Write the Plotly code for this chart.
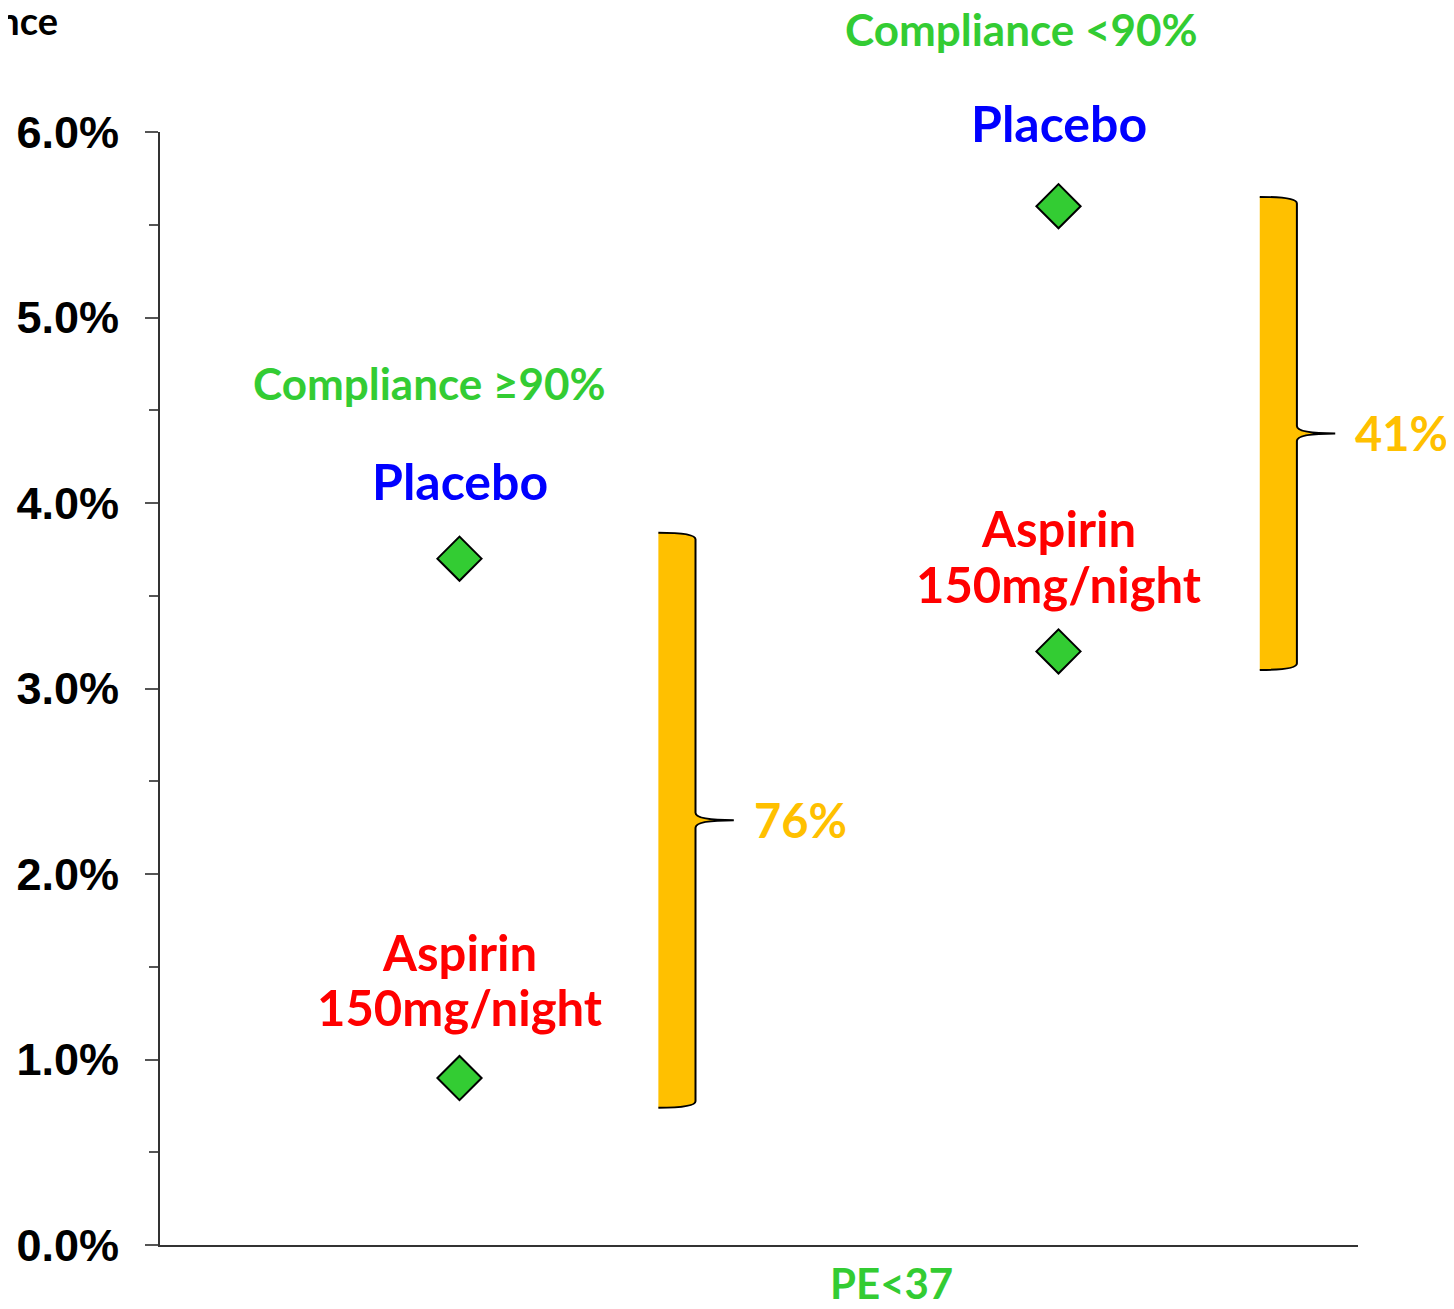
import plotly.graph_objects as go

# ---- data ----
groups = ["Compliance \u226590%", "Compliance <90%"]
group_x = [0.25, 0.75]
placebo = [3.7, 5.6]
aspirin = [0.9, 3.2]
reduction_labels = ["76%", "41%"]
y_tick_vals = [0, 1, 2, 3, 4, 5, 6]
y_tick_text = ["0.0%", "1.0%", "2.0%", "3.0%", "4.0%", "5.0%", "6.0%"]
x_label = "PE<37"
y_title = "Incidence"

GREEN = "#33CC33"
BLUE = "#0000FF"
RED = "#FF0000"
YELLOW = "#FFC000"
LABEL_FONT = "Lato"

fig = go.Figure()

fig.add_trace(go.Scatter(
    x=group_x + group_x,
    y=placebo + aspirin,
    mode="markers",
    marker=dict(symbol="diamond", size=34, color=GREEN,
                line=dict(color="black", width=2)),
    showlegend=False, hoverinfo="skip", cliponaxis=False))

# braces
brace_dx0 = [0.166, 0.168]   # offset of brace left edge from group x
brace_w = 0.031
tip_w = 0.032
pad_top = [0.14, 0.05]
pad_bot = [0.16, 0.10]
ear = 0.035
notch = 0.04
for i in range(2):
    x0 = group_x[i] + brace_dx0[i]
    x1 = x0 + brace_w
    xt = x1 + tip_w
    yt = placebo[i] + pad_top[i]
    yb = aspirin[i] - pad_bot[i]
    yc = (yt + yb) / 2
    outline = (f"M {x0},{yt} Q {x1},{yt} {x1},{yt-ear} "
               f"L {x1},{yc+notch} Q {x1},{yc} {xt},{yc} "
               f"Q {x1},{yc} {x1},{yc-notch} "
               f"L {x1},{yb+ear} Q {x1},{yb} {x0},{yb}")
    fig.add_shape(type="path", xref="x", yref="y", path=outline + " Z",
                  fillcolor=YELLOW, line=dict(width=0), layer="below")
    fig.add_shape(type="path", xref="x", yref="y", path=outline,
                  line=dict(color="black", width=2))
    fig.add_annotation(x=xt, y=yc, text=f"<b>{reduction_labels[i]}</b>",
                       xanchor="left", yanchor="middle", xshift=18, yshift=0,
                       showarrow=False,
                       font=dict(family=LABEL_FONT, size=47, color=YELLOW))

# text labels
comp_shift = [(-30, 176), (-37, 177)]
plac_shift = [78, 83]
asp_shift = [(126, 71), (123, 67)]
for i in range(2):
    fig.add_annotation(x=group_x[i], y=placebo[i], text=f"<b>{groups[i]}</b>",
                       xshift=comp_shift[i][0], yshift=comp_shift[i][1],
                       showarrow=False, yanchor="middle",
                       font=dict(family=LABEL_FONT, size=44, color=GREEN))
    fig.add_annotation(x=group_x[i], y=placebo[i], text="<b>Placebo</b>",
                       yshift=plac_shift[i], showarrow=False, yanchor="middle",
                       font=dict(family=LABEL_FONT, size=50, color=BLUE))
    fig.add_annotation(x=group_x[i], y=aspirin[i], text="<b>Aspirin</b>",
                       yshift=asp_shift[i][0], showarrow=False, yanchor="middle",
                       font=dict(family=LABEL_FONT, size=49, color=RED))
    fig.add_annotation(x=group_x[i], y=aspirin[i], text="<b>150mg/night</b>",
                       yshift=asp_shift[i][1], showarrow=False, yanchor="middle",
                       font=dict(family=LABEL_FONT, size=49, color=RED))

fig.add_annotation(x=0.611, y=0, xref="x", yref="y", text=f"<b>{x_label}</b>",
                   yshift=-38, showarrow=False, yanchor="middle",
                   font=dict(family=LABEL_FONT, size=42, color=GREEN))
fig.add_annotation(x=(60 - 160) / 1198, y=1 + (132 - 20) / 1113,
                   xref="paper", yref="paper", text=f"<b>{y_title}</b>",
                   xanchor="right", yanchor="middle", showarrow=False,
                   font=dict(family=LABEL_FONT, size=38, color="black"))

# page body has an 8px margin: size the figure so the page does not overflow
# and the plot area lands at 160..1358 x 132..1245 in the window
fig.update_layout(
    width=1438, height=1293,
    margin=dict(l=152, r=88, t=124, b=56, pad=0),
    plot_bgcolor="white", paper_bgcolor="white",
    showlegend=False,
)
fig.update_xaxes(range=[0, 1], showgrid=False, zeroline=False, automargin=False,
                 showline=True, linecolor="#333333", linewidth=2,
                 showticklabels=False, ticks="")
fig.update_yaxes(range=[0, 6], showgrid=False, zeroline=False, automargin=False,
                 showline=True, linecolor="#333333", linewidth=2,
                 tickvals=y_tick_vals, ticktext=y_tick_text,
                 ticks="outside", ticklen=13, tickcolor="#555555", tickwidth=2,
                 ticklabelstandoff=17,
                 tickfont=dict(family="Liberation Sans", size=45, color="black",
                               weight="bold"),
                 minor=dict(tickvals=[0.5, 1.5, 2.5, 3.5, 4.5, 5.5],
                            ticks="outside", ticklen=9,
                            tickcolor="#555555", tickwidth=2))

fig.write_html("out.html")
